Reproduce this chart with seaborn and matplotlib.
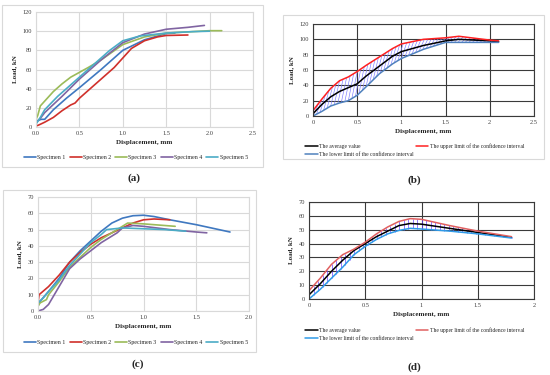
import numpy as np
import pandas as pd
import matplotlib
matplotlib.use("Agg")
import matplotlib.pyplot as plt
import matplotlib.patches as mpatches
from matplotlib.collections import LineCollection
import seaborn as sns

# ---------------- data ----------------
# Panel (a)
a_s1_x = [0.0, 0.03, 0.06, 0.1, 0.2, 0.35, 0.5, 0.75, 1.0, 1.25, 1.5, 1.6]
a_s1_y = [5, 7, 8, 8, 18, 30, 41, 60, 80, 91, 97.5, 98]
a_s2_x = [0.0, 0.03, 0.1, 0.2, 0.3, 0.4, 0.45, 0.5, 0.6, 0.75, 0.9, 1.0, 1.1, 1.25, 1.4, 1.5, 1.75]
a_s2_y = [1, 2, 5, 10, 17, 23, 25, 30, 38, 50, 62, 72, 82, 90, 94, 95.5, 96]
a_s3_x = [0.0, 0.02, 0.05, 0.1, 0.2, 0.3, 0.4, 0.5, 0.6, 0.75, 1.0, 1.25, 1.5, 2.0, 2.14]
a_s3_y = [8, 12, 22, 27, 37, 45, 52, 57, 62, 70, 86, 94, 98, 100.5, 100.5]
a_s4_x = [0.0, 0.05, 0.1, 0.3, 0.5, 0.75, 1.0, 1.25, 1.5, 1.75, 1.94]
a_s4_y = [5, 9, 15, 32, 50, 70, 88, 97, 102, 104, 106]
a_s5_x = [0.0, 0.05, 0.1, 0.25, 0.5, 0.75, 0.85, 1.0, 1.2, 1.5, 1.8, 2.0]
a_s5_y = [3, 10, 18, 32, 52, 72, 80, 90, 95, 98, 99.5, 100]

# Panel (b)
b_x = [0.0, 0.1, 0.2, 0.3, 0.4, 0.5, 0.6, 0.75, 0.9, 1.0, 1.25, 1.5, 1.65, 2.0, 2.1]
b_avg = [3, 15, 25, 32, 37, 42, 52, 65, 78, 84, 92, 98, 100, 98, 97]
b_up = [7, 22, 36, 46, 51, 58, 66, 77, 88, 94, 100, 102, 104, 99, 98]
b_low = [0, 6, 13, 17, 20, 27, 38, 55, 68, 75, 87, 96, 96, 96, 96]

# Panel (c)
c_s1_x = [0.0, 0.02, 0.1, 0.2, 0.3, 0.4, 0.5, 0.6, 0.7, 0.8, 0.9, 1.0, 1.1, 1.25, 1.5, 1.82]
c_s1_y = [3, 6, 12, 20, 30, 37, 43, 49, 54, 57, 58.5, 58.8, 58, 56, 53, 48.5]
c_s2_x = [0.0, 0.01, 0.1, 0.2, 0.3, 0.4, 0.5, 0.6, 0.7, 0.8, 0.9, 1.0, 1.1, 1.25]
c_s2_y = [5, 10, 15, 22, 30, 36, 41, 45, 48, 51, 54, 56, 56.5, 56]
c_s3_x = [0.0, 0.02, 0.08, 0.1, 0.2, 0.3, 0.4, 0.5, 0.6, 0.7, 0.8, 0.85, 1.0, 1.1, 1.3]
c_s3_y = [3, 5, 7, 10, 18, 27, 33, 39, 44, 48, 52, 54, 53.5, 53, 52]
c_s4_x = [0.0, 0.05, 0.1, 0.2, 0.3, 0.4, 0.5, 0.6, 0.7, 0.75, 0.8, 0.9, 1.0, 1.25, 1.5, 1.6]
c_s4_y = [0, 1, 4, 15, 26, 32, 37, 42, 46, 48, 51, 52.5, 52, 50, 48.5, 48]
c_s5_x = [0.0, 0.05, 0.1, 0.2, 0.3, 0.4, 0.5, 0.6, 0.65, 0.8, 1.0, 1.2, 1.4]
c_s5_y = [5, 8, 12, 19, 28, 35, 42, 47, 50, 51, 50.5, 50, 49]

# Panel (d)
d_x = [0.0, 0.1, 0.2, 0.3, 0.4, 0.5, 0.6, 0.7, 0.8, 0.9, 1.0, 1.25, 1.5, 1.8]
d_avg = [3, 11, 20, 28, 35, 40, 45, 49, 53, 54.5, 54, 51, 48, 44.5]
d_up = [6, 15, 25, 32, 36, 41, 47, 52, 56, 58, 57.5, 53, 49, 45]
d_low = [0, 7, 15, 23, 32, 38, 43, 47, 49.5, 51, 50.5, 49, 47, 44]

specimens = ["Specimen 1", "Specimen 2", "Specimen 3", "Specimen 4", "Specimen 5"]
spec_colors = ["#3F78C0", "#D0302B", "#9BBB59", "#8064A2", "#4BACC6"]
band_names = ["The average value", "The upper limit of the confidence interval",
              "The lower limit of the confidence interval"]
a_xticks = ["0.0", "0.5", "1.0", "1.5", "2.0", "2.5"]
a_yticks = ["0", "20", "40", "60", "80", "100", "120"]
b_xticks = ["0", "0.5", "1", "1.5", "2", "2.5"]
c_xticks = ["0.0", "0.5", "1.0", "1.5", "2.0"]
c_yticks = ["0", "10", "20", "30", "40", "50", "60", "70"]
d_xticks = ["0", "0.5", "1", "1.5", "2"]

# ---------------- style ----------------
sns.set_style("white")
plt.rcParams["font.family"] = ["Liberation Serif", "DejaVu Serif"]

fig = plt.figure(figsize=(5.5, 3.75), dpi=100)
W, H = 550.0, 375.0


def ax_at(l, t, r, b):
    return fig.add_axes([l / W, 1 - b / H, (r - l) / W, (b - t) / H])


def frame(l, t, r, b):
    fig.patches.append(mpatches.Rectangle((l / W, 1 - b / H), (r - l) / W, (b - t) / H,
                                          transform=fig.transFigure, fill=False,
                                          edgecolor="#d9d9d9", linewidth=0.8))


def style_axes(ax, xt, yt, gridc, spinec):
    ax.set_xticks([float(t) for t in xt])
    ax.set_xticklabels(xt)
    ax.set_yticks([float(t) for t in yt])
    ax.set_yticklabels(yt)
    ax.set_xlim(float(xt[0]), float(xt[-1]))
    ax.set_ylim(float(yt[0]), float(yt[-1]))
    ax.grid(True, color=gridc, linewidth=0.8)
    ax.set_axisbelow(True)
    for s in ax.spines.values():
        s.set_color(spinec)
        s.set_linewidth(0.8)
    ax.tick_params(length=0, labelsize=4.6, pad=3, colors="#404040")
    ax.set_xlabel("Displacement, mm", fontsize=5.0, fontweight="bold", labelpad=3)
    ax.set_ylabel("Load, kN", fontsize=5.0, fontweight="bold", labelpad=4)


def spec_df(xs, ys):
    rows = []
    for name, x, y in zip(specimens, xs, ys):
        for xi, yi in zip(x, y):
            rows.append((name, xi, yi))
    return pd.DataFrame(rows, columns=["Specimen", "Displacement", "Load"])


def spec_panel(ax, xs, ys, xt, yt, leg_y):
    df = spec_df(xs, ys)
    sns.lineplot(data=df, x="Displacement", y="Load", hue="Specimen",
                 palette=spec_colors, estimator=None, sort=False, lw=1.2, ax=ax)
    style_axes(ax, xt, yt, "#d9d9d9", "#d9d9d9")
    h, l = ax.get_legend_handles_labels()
    ax.legend(h, l, loc="center", bbox_to_anchor=(136 / W, 1 - leg_y / H),
              bbox_transform=fig.transFigure, ncol=5, frameon=False, fontsize=4.3,
              handlelength=2.0, columnspacing=0.7, handletextpad=0.2)


def band_hatch(ax, x, low, up, step, slant, color, lw):
    xs = np.asarray(x, float)
    lo = np.asarray(low, float)
    hi = np.asarray(up, float)
    starts = np.arange(xs[0], xs[-1] - slant + 1e-9, step)
    segs = [[(s, np.interp(s, xs, lo)), (s + slant, np.interp(s + slant, xs, hi))]
            for s in starts]
    ax.add_collection(LineCollection(segs, colors=color, linewidths=lw, zorder=1.5))


def band_panel(ax, x, avg, up, low, xt, yt, step, slant, hatchc, hlw, lowc, upc, leg_y):
    df = pd.DataFrame({"Displacement": x * 3,
                       "Load": avg + up + low,
                       "Series": [band_names[0]] * len(x) + [band_names[1]] * len(x)
                       + [band_names[2]] * len(x)})
    band_hatch(ax, x, low, up, step, slant, hatchc, hlw)
    sns.lineplot(data=df, x="Displacement", y="Load", hue="Series",
                 palette=["black", upc, lowc], estimator=None, sort=False, lw=1.1, ax=ax,
                 zorder=2)
    style_axes(ax, xt, yt, "#3a3a3a", "#3a3a3a")
    h, l = ax.get_legend_handles_labels()
    order = [0, 2, 1]
    ax.legend([h[i] for i in order], [l[i] for i in order], loc="upper left",
              bbox_to_anchor=(300 / W, 1 - leg_y / H), bbox_transform=fig.transFigure,
              ncol=2, frameon=False, fontsize=4.1, handlelength=2.2, columnspacing=0.3,
              handletextpad=0.3, labelspacing=0.6)


# frames
frame(2, 5, 263, 167)
frame(283, 15, 544, 159)
frame(3, 190, 256, 352)

ax_a = ax_at(36, 12, 253, 127)
spec_panel(ax_a, [a_s1_x, a_s2_x, a_s3_x, a_s4_x, a_s5_x],
           [a_s1_y, a_s2_y, a_s3_y, a_s4_y, a_s5_y], a_xticks, a_yticks, 157)

ax_b = ax_at(313, 24, 534, 116)
band_panel(ax_b, b_x, b_avg, b_up, b_low, b_xticks, a_yticks, 0.04, 0.06, "#7a7aff", 0.45,
           "#4F81BD", "#FF2020", 138)

ax_c = ax_at(38, 197, 249, 311)
spec_panel(ax_c, [c_s1_x, c_s2_x, c_s3_x, c_s4_x, c_s5_x],
           [c_s1_y, c_s2_y, c_s3_y, c_s4_y, c_s5_y], c_xticks, c_yticks, 342)

ax_d = ax_at(309, 202, 534, 299)
band_panel(ax_d, d_x, d_avg, d_up, d_low, d_xticks, c_yticks, 0.04, 0.0, "#6a40ff", 0.5,
           "#2f9be8", "#e06060", 322)

for txt, x, y in [("(a)", 134, 178), ("(b)", 414, 180), ("(c)", 138, 364), ("(d)", 414, 367)]:
    fig.text(x / W, 1 - y / H, txt, ha="center", va="center", fontsize=8, fontweight="bold")

fig.savefig("out.png", dpi=100)
